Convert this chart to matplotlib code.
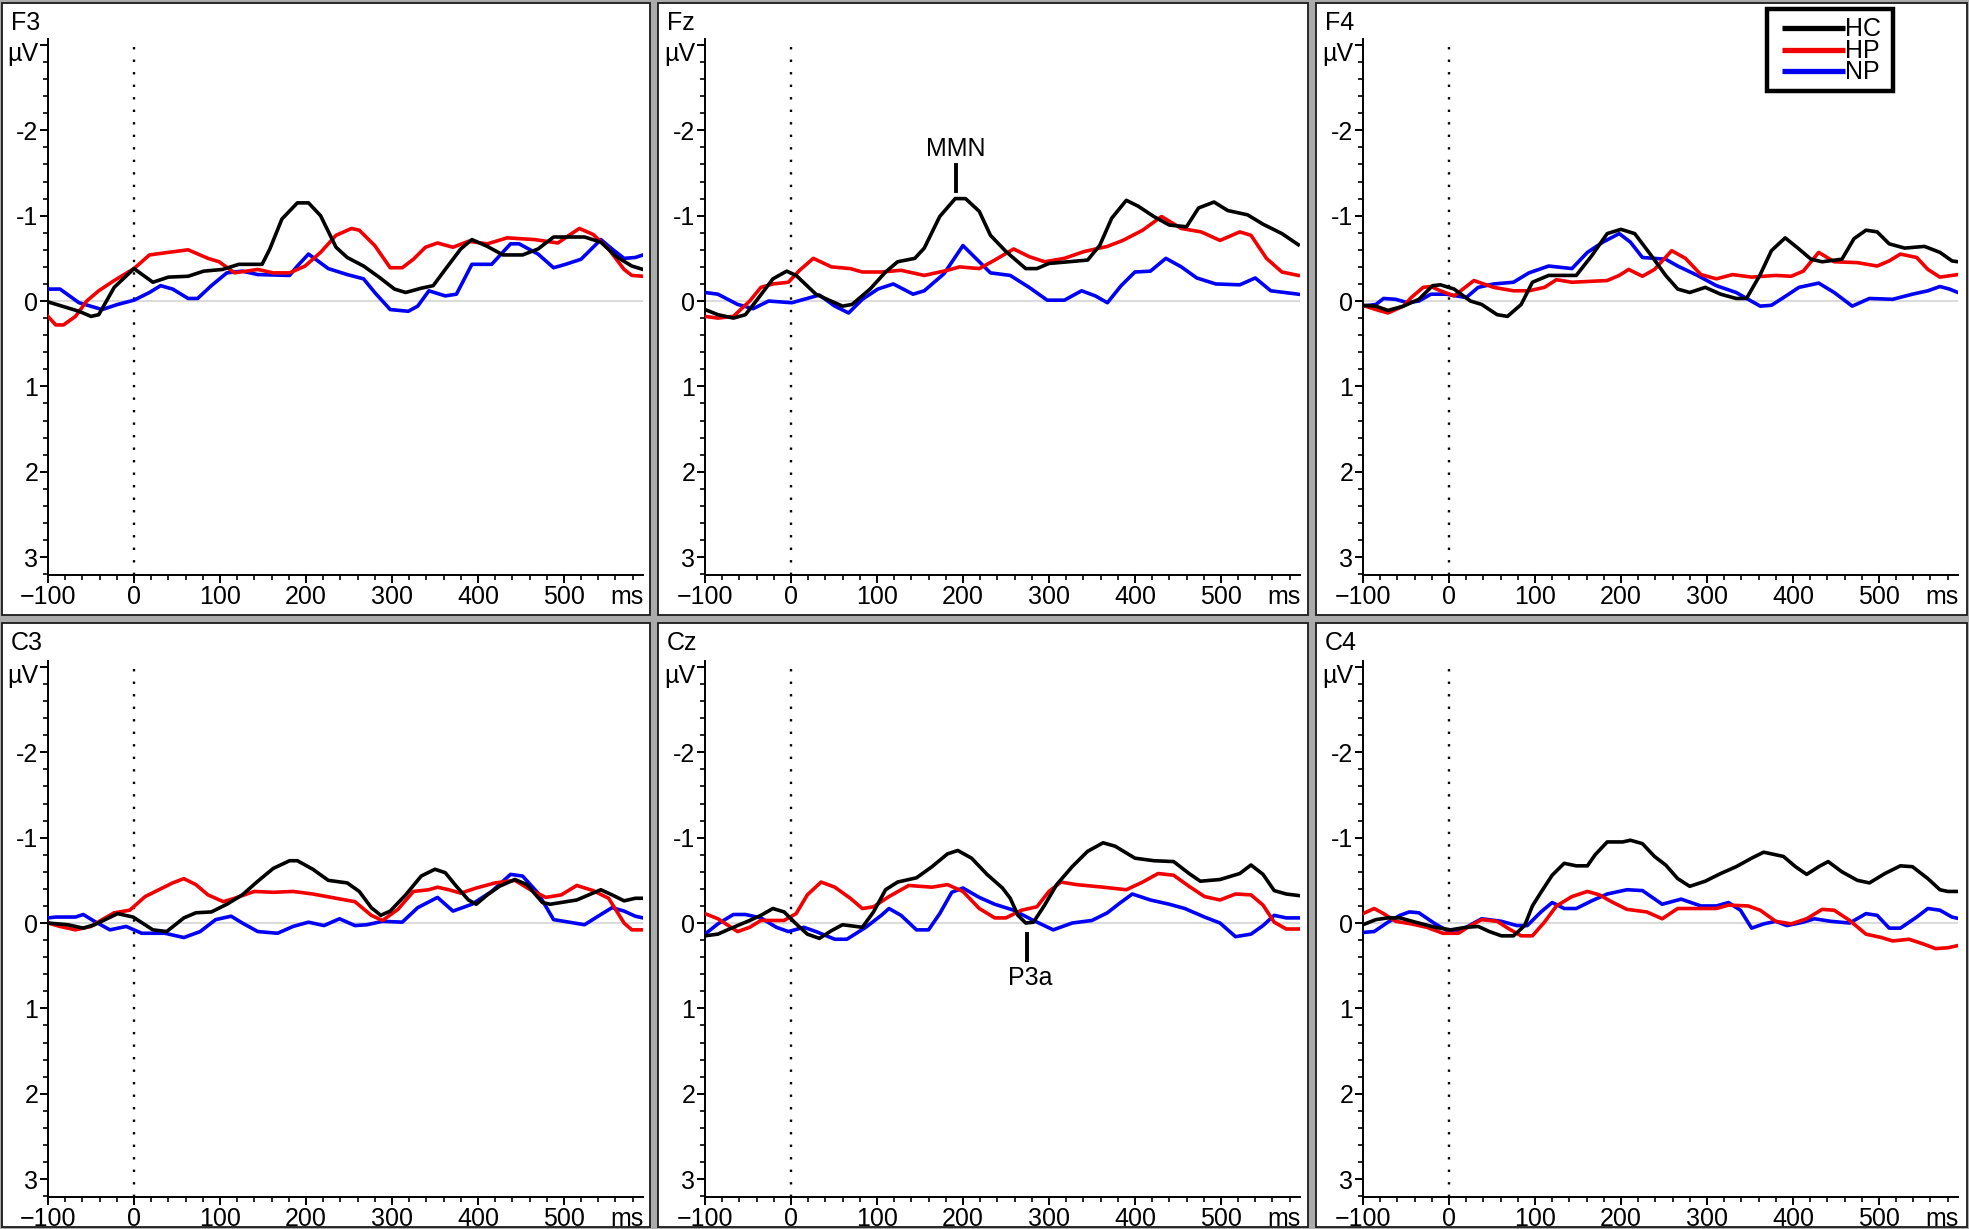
import matplotlib.pyplot as plt
from matplotlib.lines import Line2D
from matplotlib.patches import Rectangle
from matplotlib.ticker import MultipleLocator
from matplotlib.transforms import blended_transform_factory, offset_copy, ScaledTranslation

plt.rcParams['font.family'] = ['Liberation Sans', 'DejaVu Sans']

# data: (ms, uV) pairs, negative is plotted upward
F3_HC = [(-100, 0.01), (-64, 0.12), (-50, 0.18), (-41, 0.16), (-23, -0.16), (0, -0.38), (22, -0.22),
         (40, -0.28), (63, -0.29), (81, -0.35), (103, -0.37), (122, -0.43), (149, -0.43), (158, -0.61),
         (172, -0.96), (190, -1.15), (203, -1.15), (217, -1.0), (235, -0.63), (248, -0.51), (267, -0.41),
         (285, -0.28), (303, -0.14), (316, -0.10), (334, -0.15), (348, -0.18), (362, -0.37), (380, -0.61),
         (393, -0.72), (411, -0.64), (429, -0.54), (452, -0.54), (470, -0.61), (488, -0.75), (524, -0.75),
         (543, -0.69), (561, -0.52), (579, -0.41), (592, -0.37)]
F3_HP = [(-100, 0.18), (-91, 0.28), (-82, 0.28), (-68, 0.18), (-55, 0.0), (-41, -0.12), (-23, -0.24),
         (0, -0.38), (18, -0.54), (40, -0.57), (63, -0.60), (86, -0.50), (99, -0.46), (117, -0.33),
         (144, -0.37), (162, -0.33), (181, -0.33), (199, -0.41), (217, -0.57), (235, -0.77), (253, -0.85),
         (262, -0.83), (280, -0.65), (298, -0.39), (312, -0.39), (325, -0.49), (339, -0.63), (353, -0.68),
         (371, -0.63), (389, -0.70), (411, -0.67), (434, -0.74), (466, -0.72), (493, -0.68), (506, -0.77),
         (518, -0.85), (534, -0.78), (552, -0.61), (570, -0.37), (579, -0.30), (592, -0.29)]
F3_NP = [(-100, -0.14), (-86, -0.14), (-64, 0.02), (-37, 0.10), (-19, 0.04), (0, -0.01), (18, -0.10),
         (31, -0.18), (45, -0.14), (63, -0.03), (74, -0.03), (90, -0.18), (108, -0.33), (126, -0.35),
         (144, -0.31), (181, -0.30), (190, -0.41), (203, -0.55), (226, -0.38), (248, -0.31), (267, -0.26),
         (280, -0.10), (298, 0.10), (319, 0.12), (330, 0.06), (343, -0.12), (362, -0.06), (375, -0.08),
         (393, -0.43), (416, -0.43), (438, -0.67), (448, -0.67), (470, -0.55), (488, -0.39), (502, -0.43),
         (520, -0.49), (543, -0.72), (556, -0.61), (570, -0.50), (583, -0.51), (592, -0.54)]

FZ_HC = [(-100, 0.10), (-85, 0.16), (-67, 0.20), (-53, 0.16), (-39, -0.02), (-21, -0.26), (-5, -0.35),
         (6, -0.30), (29, -0.08), (42, -0.02), (60, 0.06), (71, 0.04), (92, -0.14), (110, -0.34),
         (124, -0.46), (144, -0.50), (155, -0.62), (173, -0.99), (191, -1.20), (203, -1.20), (219, -1.05),
         (232, -0.77), (250, -0.58), (273, -0.38), (286, -0.38), (300, -0.44), (323, -0.46), (345, -0.48),
         (359, -0.65), (373, -0.97), (390, -1.18), (404, -1.11), (422, -0.99), (440, -0.89), (460, -0.87),
         (474, -1.09), (492, -1.16), (508, -1.06), (531, -1.01), (549, -0.90), (571, -0.79), (590, -0.66)]
FZ_HP = [(-100, 0.18), (-85, 0.20), (-67, 0.18), (-48, 0.0), (-35, -0.16), (-21, -0.20), (-3, -0.22),
         (10, -0.36), (26, -0.50), (47, -0.40), (69, -0.38), (83, -0.34), (105, -0.34), (128, -0.36),
         (155, -0.30), (182, -0.36), (196, -0.40), (219, -0.38), (237, -0.48), (259, -0.61), (277, -0.52),
         (295, -0.46), (318, -0.50), (341, -0.58), (368, -0.64), (386, -0.71), (409, -0.83), (431, -0.99),
         (454, -0.85), (477, -0.81), (499, -0.71), (522, -0.81), (535, -0.77), (553, -0.50), (571, -0.34),
         (590, -0.30)]
FZ_NP = [(-100, -0.10), (-85, -0.08), (-62, 0.04), (-44, 0.09), (-26, 0.0), (1, 0.02), (33, -0.07),
         (51, 0.06), (67, 0.14), (83, -0.02), (101, -0.14), (119, -0.20), (142, -0.08), (155, -0.12),
         (178, -0.32), (200, -0.65), (219, -0.46), (232, -0.33), (255, -0.30), (277, -0.16), (298, -0.01),
         (318, -0.01), (338, -0.12), (354, -0.06), (368, 0.02), (384, -0.18), (400, -0.34), (418, -0.35),
         (436, -0.50), (454, -0.40), (472, -0.27), (494, -0.20), (522, -0.19), (540, -0.27), (558, -0.12),
         (590, -0.08)]

F4_HC = [(-100, 0.05), (-85, 0.06), (-71, 0.11), (-53, 0.06), (-35, -0.02), (-19, -0.18), (-10, -0.19),
         (6, -0.14), (25, 0.0), (38, 0.04), (56, 0.16), (68, 0.18), (84, 0.04), (97, -0.22), (116, -0.30),
         (148, -0.30), (166, -0.53), (184, -0.79), (200, -0.84), (216, -0.79), (234, -0.55), (252, -0.30),
         (266, -0.14), (280, -0.10), (298, -0.16), (316, -0.08), (334, -0.03), (346, -0.03), (362, -0.31),
         (375, -0.59), (391, -0.74), (407, -0.61), (421, -0.49), (434, -0.46), (457, -0.49), (471, -0.73),
         (485, -0.83), (498, -0.81), (512, -0.67), (530, -0.62), (553, -0.64), (571, -0.57), (585, -0.47),
         (592, -0.46)]
F4_HP = [(-100, 0.05), (-85, 0.10), (-71, 0.14), (-53, 0.06), (-44, -0.04), (-30, -0.16), (-21, -0.17),
         (-10, -0.12), (6, -0.06), (29, -0.24), (52, -0.16), (75, -0.12), (93, -0.12), (111, -0.16),
         (125, -0.25), (143, -0.22), (184, -0.24), (198, -0.30), (209, -0.37), (225, -0.29), (239, -0.37),
         (259, -0.59), (275, -0.50), (293, -0.31), (311, -0.26), (330, -0.31), (352, -0.28), (380, -0.30),
         (398, -0.29), (412, -0.35), (430, -0.57), (448, -0.46), (475, -0.45), (498, -0.41), (512, -0.47),
         (525, -0.55), (544, -0.51), (557, -0.37), (571, -0.28), (592, -0.31)]
F4_NP = [(-100, 0.06), (-85, 0.04), (-76, -0.03), (-62, -0.02), (-48, 0.02), (-35, 0.0), (-21, -0.08),
         (-3, -0.08), (20, -0.04), (34, -0.16), (52, -0.20), (75, -0.22), (93, -0.33), (116, -0.41),
         (143, -0.38), (161, -0.57), (179, -0.69), (198, -0.79), (211, -0.69), (225, -0.51), (252, -0.49),
         (266, -0.41), (289, -0.30), (311, -0.18), (334, -0.10), (348, -0.02), (362, 0.06), (375, 0.05),
         (389, -0.04), (407, -0.16), (430, -0.21), (448, -0.10), (469, 0.06), (489, -0.03), (516, -0.02),
         (539, -0.08), (557, -0.12), (571, -0.17), (582, -0.14), (592, -0.10)]

C3_HC = [(-100, 0.0), (-77, 0.02), (-59, 0.06), (-46, 0.02), (-19, -0.11), (-1, -0.07), (22, 0.08),
         (38, 0.10), (58, -0.06), (72, -0.12), (90, -0.13), (108, -0.22), (126, -0.33), (144, -0.49),
         (162, -0.64), (181, -0.73), (190, -0.73), (208, -0.63), (226, -0.50), (248, -0.47), (262, -0.37),
         (276, -0.18), (287, -0.09), (298, -0.14), (316, -0.33), (334, -0.55), (350, -0.63), (362, -0.59),
         (375, -0.43), (389, -0.27), (398, -0.22), (411, -0.33), (425, -0.43), (443, -0.51), (457, -0.45),
         (475, -0.24), (484, -0.22), (515, -0.27), (543, -0.39), (556, -0.33), (570, -0.26), (583, -0.29),
         (592, -0.29)]
C3_HP = [(-100, 0.0), (-86, 0.04), (-68, 0.08), (-50, 0.04), (-37, -0.04), (-23, -0.12), (-5, -0.15),
         (13, -0.31), (31, -0.40), (45, -0.47), (58, -0.52), (72, -0.45), (86, -0.33), (104, -0.25),
         (117, -0.29), (140, -0.37), (162, -0.36), (185, -0.37), (208, -0.34), (235, -0.29), (257, -0.25),
         (276, -0.09), (289, -0.03), (307, -0.16), (325, -0.37), (343, -0.39), (353, -0.42), (366, -0.39),
         (380, -0.35), (398, -0.41), (420, -0.47), (443, -0.50), (461, -0.39), (479, -0.30), (497, -0.33),
         (515, -0.44), (534, -0.38), (552, -0.29), (570, 0.0), (579, 0.08), (592, 0.08)]
C3_NP = [(-100, -0.06), (-91, -0.07), (-68, -0.07), (-59, -0.10), (-46, -0.02), (-28, 0.08), (-9, 0.04),
         (9, 0.12), (36, 0.12), (58, 0.17), (77, 0.10), (95, -0.04), (113, -0.08), (126, 0.0), (144, 0.10),
         (167, 0.12), (185, 0.04), (203, -0.01), (221, 0.03), (239, -0.05), (257, 0.03), (271, 0.02),
         (289, -0.02), (312, -0.01), (330, -0.18), (353, -0.30), (371, -0.14), (393, -0.22), (416, -0.37),
         (438, -0.57), (452, -0.55), (470, -0.35), (488, -0.04), (506, -0.01), (524, 0.02), (543, -0.10),
         (556, -0.18), (570, -0.14), (583, -0.08), (592, -0.06)]

CZ_HC = [(-100, 0.15), (-85, 0.13), (-67, 0.05), (-48, -0.03), (-35, -0.09), (-21, -0.17), (-8, -0.13),
         (6, 0.01), (19, 0.13), (33, 0.18), (47, 0.09), (60, 0.02), (83, 0.05), (96, -0.13), (110, -0.39),
         (124, -0.48), (146, -0.53), (164, -0.66), (182, -0.81), (194, -0.85), (210, -0.76), (228, -0.57),
         (246, -0.41), (255, -0.29), (264, -0.09), (273, 0.0), (282, -0.01), (295, -0.21), (309, -0.45),
         (327, -0.66), (345, -0.84), (363, -0.94), (377, -0.90), (400, -0.76), (422, -0.73), (445, -0.72),
         (463, -0.58), (476, -0.49), (499, -0.51), (522, -0.58), (535, -0.68), (549, -0.57), (562, -0.38),
         (576, -0.34), (592, -0.32)]
CZ_HP = [(-100, -0.11), (-85, -0.05), (-62, 0.10), (-48, 0.05), (-35, -0.03), (-8, -0.03), (6, -0.11),
         (19, -0.33), (35, -0.48), (51, -0.42), (69, -0.29), (83, -0.17), (96, -0.19), (114, -0.31),
         (137, -0.44), (164, -0.42), (182, -0.45), (200, -0.37), (219, -0.17), (237, -0.06), (250, -0.06),
         (268, -0.15), (286, -0.19), (300, -0.37), (314, -0.48), (332, -0.45), (363, -0.42), (390, -0.39),
         (409, -0.48), (427, -0.58), (445, -0.56), (463, -0.43), (481, -0.31), (499, -0.27), (517, -0.34),
         (535, -0.33), (549, -0.21), (562, -0.01), (576, 0.07), (592, 0.07)]
CZ_NP = [(-100, 0.13), (-85, 0.01), (-67, -0.10), (-53, -0.10), (-35, -0.06), (-17, 0.05), (-3, 0.10),
         (15, 0.05), (29, 0.10), (51, 0.19), (65, 0.19), (87, 0.05), (105, -0.09), (114, -0.17), (128, -0.09),
         (146, 0.08), (160, 0.08), (173, -0.11), (187, -0.36), (200, -0.41), (219, -0.30), (237, -0.22),
         (259, -0.15), (282, -0.03), (305, 0.08), (327, 0.0), (350, -0.03), (368, -0.12), (382, -0.23),
         (397, -0.34), (418, -0.27), (440, -0.22), (458, -0.17), (481, -0.07), (499, 0.0), (517, 0.16),
         (535, 0.13), (549, 0.03), (562, -0.09), (576, -0.06), (592, -0.06)]

C4_HC = [(-100, 0.02), (-85, -0.04), (-71, -0.06), (-57, -0.06), (-39, -0.01), (-16, 0.05), (2, 0.08),
         (20, 0.05), (34, 0.04), (47, 0.10), (61, 0.15), (75, 0.15), (88, 0.03), (97, -0.20), (107, -0.36),
         (120, -0.56), (134, -0.70), (148, -0.67), (161, -0.67), (170, -0.80), (184, -0.95), (202, -0.95),
         (211, -0.97), (225, -0.93), (239, -0.78), (252, -0.68), (266, -0.52), (280, -0.43), (298, -0.49),
         (316, -0.58), (334, -0.66), (352, -0.76), (366, -0.83), (389, -0.78), (403, -0.66), (416, -0.57),
         (430, -0.66), (441, -0.72), (457, -0.60), (475, -0.50), (489, -0.47), (507, -0.58), (525, -0.67),
         (539, -0.66), (557, -0.52), (571, -0.39), (580, -0.37), (594, -0.37)]
C4_HP = [(-100, -0.11), (-87, -0.17), (-76, -0.11), (-62, -0.02), (-44, 0.01), (-26, 0.05), (-7, 0.12),
         (11, 0.12), (25, 0.03), (38, -0.04), (56, -0.02), (70, 0.07), (84, 0.15), (97, 0.15), (111, -0.01),
         (125, -0.20), (143, -0.31), (161, -0.37), (175, -0.33), (189, -0.25), (207, -0.16), (230, -0.13),
         (248, -0.05), (266, -0.17), (289, -0.17), (311, -0.17), (325, -0.21), (348, -0.20), (362, -0.15),
         (380, -0.02), (398, 0.01), (416, -0.05), (434, -0.16), (448, -0.15), (466, -0.03), (485, 0.13),
         (503, 0.17), (516, 0.21), (535, 0.19), (553, 0.25), (566, 0.30), (580, 0.29), (594, 0.26)]
C4_NP = [(-100, 0.11), (-87, 0.10), (-71, -0.01), (-57, -0.09), (-46, -0.13), (-35, -0.12), (-16, 0.01),
         (2, 0.11), (20, 0.05), (38, -0.05), (61, -0.02), (79, 0.03), (91, 0.03), (107, -0.13), (120, -0.24),
         (134, -0.17), (148, -0.17), (166, -0.26), (184, -0.34), (207, -0.39), (225, -0.38), (248, -0.22),
         (270, -0.28), (293, -0.20), (311, -0.20), (325, -0.24), (339, -0.15), (352, 0.06), (366, 0.01),
         (380, -0.02), (393, 0.03), (412, -0.01), (425, -0.05), (444, -0.02), (466, 0.0), (485, -0.11),
         (498, -0.09), (512, 0.06), (525, 0.06), (544, -0.07), (557, -0.17), (571, -0.15), (585, -0.07),
         (594, -0.05)]

channels = ['F3', 'Fz', 'F4', 'C3', 'Cz', 'C4']
groups = ['HC', 'HP', 'NP']
colors = ['#000000', '#f20000', '#0000f5']
waves = {
    'F3': [F3_HC, F3_HP, F3_NP], 'Fz': [FZ_HC, FZ_HP, FZ_NP], 'F4': [F4_HC, F4_HP, F4_NP],
    'C3': [C3_HC, C3_HP, C3_NP], 'Cz': [CZ_HC, CZ_HP, CZ_NP], 'C4': [C4_HC, C4_HP, C4_NP],
}
xticks = [-100, 0, 100, 200, 300, 400, 500]
yticks = [-3, -2, -1, 0, 1, 2, 3]
ylabels = ['µV', '-2', '-1', '0', '1', '2', '3']

W, H = 1969, 1229
fig = plt.figure(figsize=(W / 100, H / 100), dpi=100, facecolor='#ababab')


def fx(x):
    return x / W


def fy(y):
    return 1 - y / H


# panel frames (pixels)
frame_x = [(2, 650), (658, 1308), (1316, 1967)]
frame_y = [(3, 615), (623, 1227)]
axes_x0 = [48, 705, 1363]
axes_y0 = [39, 661]
ax_w, ax_h = 595, 536

for r in range(2):
    for c in range(3):
        x0, x1 = frame_x[c]
        y0, y1 = frame_y[r]
        fig.add_artist(Rectangle((fx(x0), fy(y1)), (x1 - x0) / W, (y1 - y0) / H,
                                 transform=fig.transFigure, facecolor='white',
                                 edgecolor='#1a1a1a', lw=1.3, zorder=0))

tick_fs = 18
for i, ch in enumerate(channels):
    r, c = divmod(i, 3)
    ax = fig.add_axes([fx(axes_x0[c]), fy(axes_y0[r] + ax_h), ax_w / W, ax_h / H])
    ax.patch.set_visible(False)
    ax.set_xlim(-100, 592)
    ax.set_ylim(3.21, -3.07)
    for sp in ['top', 'right']:
        ax.spines[sp].set_visible(False)
    for sp in ['left', 'bottom']:
        ax.spines[sp].set_linewidth(1.4)
    ax.set_xticks(xticks)
    ax.set_yticks(yticks)
    ax.set_yticklabels(ylabels)
    ax.xaxis.set_minor_locator(MultipleLocator(20))
    ax.yaxis.set_minor_locator(MultipleLocator(0.2))
    ax.tick_params(which='major', direction='out', length=6, width=1.4, labelsize=tick_fs, pad=1)
    ax.tick_params(which='minor', direction='out', length=3.5, width=1.2)
    # the unit label sits a little below the top tick
    uv = ax.get_yticklabels()[0]
    uv.set_transform(uv.get_transform() + ScaledTranslation(0, -5 / 72, fig.dpi_scale_trans))

    ax.axhline(0, color='#d4d4d4', lw=1.2, zorder=1)
    ax.axvline(0, color='black', lw=1.7, ls=(0, (1, 4.3)), zorder=1)

    # NP first so HC lands on top
    for wave, col in list(zip(waves[ch], colors))[::-1]:
        t = [p[0] for p in wave]
        v = [p[1] for p in wave]
        ax.plot(t, v, color=col, lw=2.6, zorder=3)

    tr = offset_copy(blended_transform_factory(ax.transData, ax.transAxes), fig=fig, y=-7.5, units='points')
    ax.text(573, 0, 'ms', transform=tr, ha='center', va='top', fontsize=tick_fs)

    fig.text(fx(frame_x[c][0] + 9), fy(frame_y[r][0] + 20), ch, ha='left', va='center', fontsize=tick_fs)

    if ch == 'Fz':
        ax.plot([192, 192], [-1.59, -1.29], color='black', lw=2.8, zorder=4)
        ax.text(192, -1.64, 'MMN', ha='center', va='bottom', fontsize=tick_fs)
    if ch == 'Cz':
        ax.plot([275, 275], [0.13, 0.43], color='black', lw=2.8, zorder=4)
        ax.text(278, 0.50, 'P3a', ha='center', va='top', fontsize=tick_fs)

# legend box
fig.add_artist(Rectangle((fx(1767), fy(91)), (1893 - 1767) / W, (91 - 9) / H,
                         transform=fig.transFigure, facecolor='white', edgecolor='black', lw=3.2, zorder=5))
for k, (g, col) in enumerate(zip(groups, colors)):
    y = [28, 50, 71][k]
    fig.add_artist(Line2D([fx(1782), fx(1845)], [fy(y), fy(y)], transform=fig.transFigure,
                          color=col, lw=3.8, zorder=6, solid_capstyle='butt'))
    fig.text(fx(1845), fy(y + 1), g, ha='left', va='center', fontsize=tick_fs, zorder=6)

fig.savefig('out.png', dpi=100, facecolor=fig.get_facecolor())
